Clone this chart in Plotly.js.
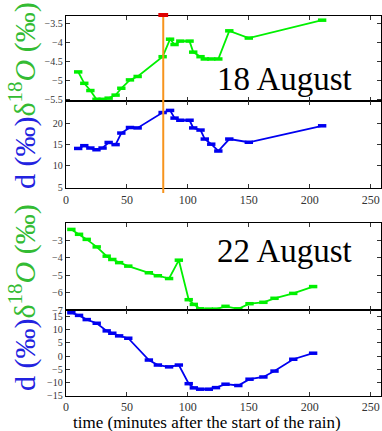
<!DOCTYPE html>
<html>
<head>
<meta charset="utf-8">
<script src="https://cdn.plot.ly/plotly-3.0.1.min.js"></script>
<style>html,body{margin:0;padding:0;background:#fff;}#chart{width:382px;height:431px;}</style>
</head>
<body>
<div id="chart"></div>
<script>
// ---- data: 18 August ----
const timeAug18 = [10,15,20,25,30,35,40.7,45.4,52.5,58.8,79.3,85.4,89.1,93.8,101.4,104.4,110.4,113.9,119.2,125,134,150,210.2];
const d18OAug18 = [-4.78,-5.08,-5.27,-5.50,-5.50,-5.47,-5.39,-5.21,-4.99,-4.90,-4.38,-3.92,-4.06,-3.97,-3.97,-4.26,-4.38,-4.44,-4.44,-4.44,-3.70,-3.89,-3.42];
const dexAug18 = [14.1,14.75,14.2,13.8,14.2,15.5,15.0,17.7,19.0,18.9,22.5,23.0,21.2,20.7,20.7,18.9,18.4,16.3,15.1,13.5,16.3,15.55,19.4];
// ---- data: 22 August ----
const timeAug22 = [4.4,10.7,17.0,25.2,33.4,38.0,43.6,51.1,68.0,75.4,84.6,92.6,100.7,104.9,110.1,117.2,123.1,130.9,141.4,150.6,162.0,171.1,186.5,202.8];
const d18OAug22 = [-2.39,-2.67,-2.96,-3.39,-3.92,-4.11,-4.29,-4.49,-4.87,-5.04,-5.20,-4.15,-6.41,-6.68,-6.93,-6.95,-6.95,-6.79,-6.93,-6.64,-6.56,-6.33,-6.05,-5.66];
const dexAug22 = [16.5,15.5,13.9,12.5,9.6,8.7,7.7,6.8,-1.5,-3.4,-4.1,-3.4,-10.5,-12.1,-12.6,-12.6,-12.0,-10.7,-11.2,-8.8,-7.95,-5.7,-1.2,1.1];
// ---- marker line / ticks / labels ----
const markerTime = 79.8;
const markerSpan = [0, 1];
const xTicks = [0,50,100,150,200,250];
const yTicks1 = [-3.5,-4,-4.5,-5,-5.5];
const yTicks2 = [5,10,15,20];
const yTicks3 = [-3,-4,-5,-6,-7];
const yTicks4 = [-15,-10,-5,0,5,10,15];
const dateLabels = ['18 August','22 August'];
const xTitle = 'time (minutes after the start of the rain)';

const GREEN = '#00f000', BLUE = '#0000f0';
const SERIF = 'Liberation Serif, Times New Roman, serif';
function tr(x, y, color, xa, ya) {
  return {x: x, y: y, xaxis: xa, yaxis: ya, type: 'scatter', mode: 'lines+markers', cliponaxis: false,
    line: {color: color, width: 1.8},
    marker: {symbol: 'line-ew', size: 6, color: color, line: {color: color, width: 3.5}},
    hoverinfo: 'skip', showlegend: false};
}
const data = [
  tr(timeAug18, d18OAug18, GREEN, 'x', 'y'),
  tr(timeAug18, dexAug18, BLUE, 'x2', 'y2'),
  tr(timeAug22, d18OAug22, GREEN, 'x3', 'y3'),
  tr(timeAug22, dexAug22, BLUE, 'x4', 'y4'),
  {x: [markerTime, markerTime], y: markerSpan, xaxis: 'x5', yaxis: 'y5', type: 'scatter', mode: 'lines',
   line: {color: '#f7941d', width: 2}, hoverinfo: 'skip', showlegend: false},
  {x: [markerTime], y: [markerSpan[1]], xaxis: 'x5', yaxis: 'y5', type: 'scatter', mode: 'markers', cliponaxis: false,
   marker: {symbol: 'line-ew', size: 7, color: '#e00000', line: {color: '#e00000', width: 4}}, hoverinfo: 'skip', showlegend: false}
];
const H = 431;
const py = p => 1 - p / H;
function xax(anchor, showLabels) {
  return {anchor: anchor, range: [0, 258.5], tickvals: xTicks, showticklabels: showLabels,
    ticks: 'inside', ticklen: 4, tickcolor: '#333', showline: true, linecolor: '#000', linewidth: 1.3,
    mirror: 'ticks', showgrid: false, zeroline: false,
    tickfont: {family: SERIF, size: 12, color: '#333'}};
}
function yax(anchor, dom, range, tv) {
  return {anchor: anchor, domain: dom, range: range, tickvals: tv,
    ticks: 'inside', ticklen: 4, tickcolor: '#333', showline: true, linecolor: '#000', linewidth: 1.3,
    mirror: 'ticks', showgrid: false, zeroline: false,
    tickfont: {family: SERIF, size: 10, color: '#333'}};
}
const layout = {
  width: 382, height: 431,
  margin: {l: 66, r: 1, t: 0, b: 0},
  paper_bgcolor: '#fff', plot_bgcolor: 'rgba(0,0,0,0)',
  xaxis: xax('y', false),
  xaxis2: xax('y2', true),
  xaxis3: xax('y3', false),
  xaxis4: xax('y4', true),
  yaxis: yax('x', [py(101), py(16)], [-5.545, -3.31], yTicks1),
  yaxis2: yax('x2', [py(188), py(101)], [4.85, 25.2], yTicks2),
  yaxis3: yax('x3', [py(310), py(223.3)], [-7.0, -2.04], yTicks3),
  yaxis4: yax('x4', [py(395.5), py(310)], [-15, 17.55], yTicks4),
  xaxis5: {anchor: 'y5', range: [0, 258.5], visible: false, showgrid: false, zeroline: false},
  yaxis5: {anchor: 'x5', domain: [py(193), py(15)], range: [0, 1], visible: false, showgrid: false, zeroline: false},
  annotations: [
    {text: dateLabels[0], xref: 'paper', yref: 'paper', x: (284 - 66) / 315, y: py(79), xanchor: 'center', yanchor: 'middle',
     showarrow: false, font: {family: SERIF, size: 33, color: '#000'}},
    {text: dateLabels[1], xref: 'paper', yref: 'paper', x: (284 - 66) / 315, y: py(251), xanchor: 'center', yanchor: 'middle',
     showarrow: false, font: {family: SERIF, size: 33, color: '#000'}},
    {text: xTitle, xref: 'paper', yref: 'paper', x: (207 - 66) / 315, y: py(422), xanchor: 'center', yanchor: 'middle',
     showarrow: false, font: {family: SERIF, size: 17, color: '#000'}},
    {text: '<span style="color:#2222e0">d (‰)</span><span style="color:#33bb33">δ<sup>18</sup><i>O</i> (‰)</span>',
     xref: 'paper', yref: 'paper', x: (22 - 66) / 315, y: py(96), xanchor: 'center', yanchor: 'middle', textangle: -90,
     showarrow: false, font: {family: SERIF, size: 30}},
    {text: '<span style="color:#2222e0">d (‰)</span><span style="color:#33bb33">δ<sup>18</sup><i>O</i> (‰)</span>',
     xref: 'paper', yref: 'paper', x: (22 - 66) / 315, y: py(298), xanchor: 'center', yanchor: 'middle', textangle: -90,
     showarrow: false, font: {family: SERIF, size: 30}}
  ]
};
Plotly.newPlot('chart', data, layout, {displayModeBar: false, staticPlot: true});
</script>
</body>
</html>
